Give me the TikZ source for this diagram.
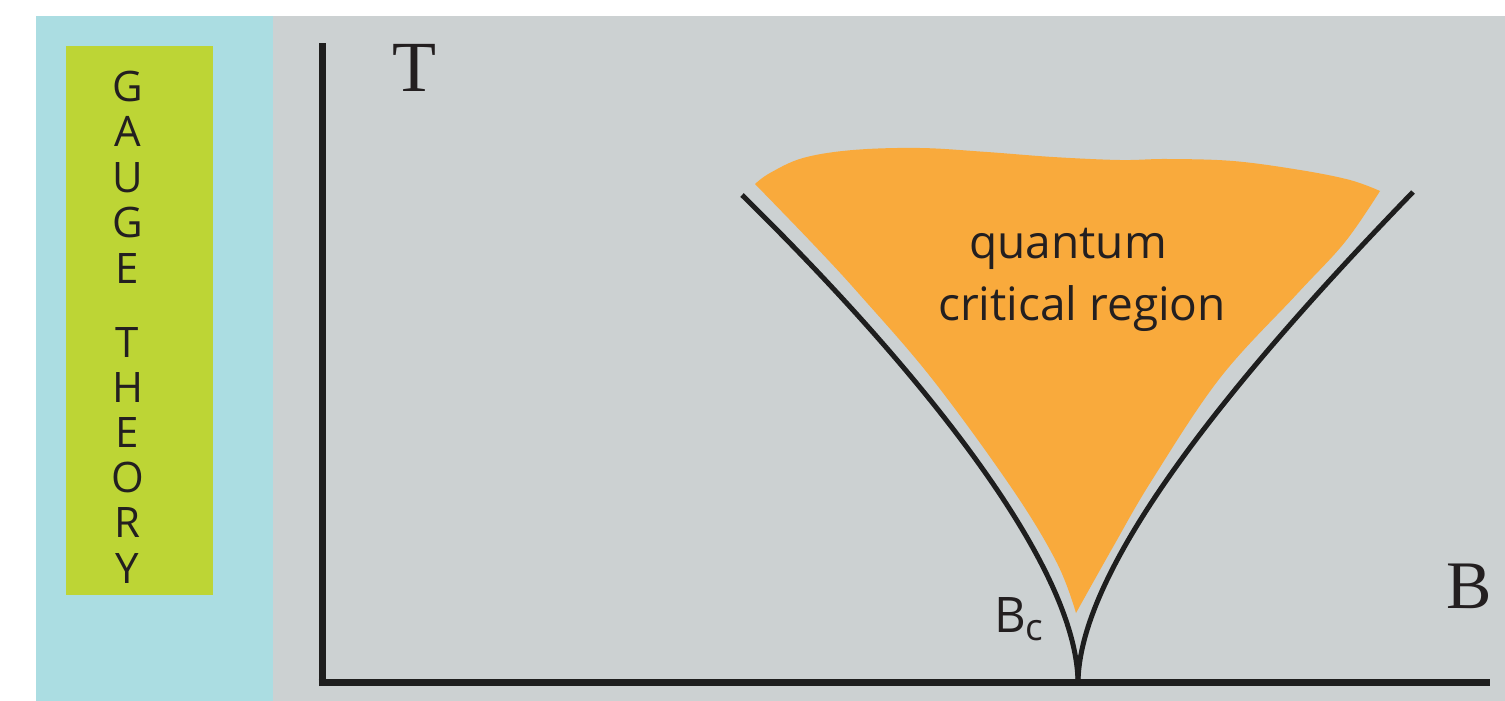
\documentclass[tikz,border=0pt]{standalone}
\usepackage{fontspec}
\setmainfont{Liberation Serif}
\newfontfamily\osans{Open Sans}
\definecolor{cyanbg}{RGB}{171,221,226}
\definecolor{graybg}{RGB}{204,209,210}
\definecolor{greenbox}{RGB}{189,213,53}
\definecolor{qcorange}{RGB}{249,170,60}
\definecolor{inkblack}{RGB}{30,30,30}
\definecolor{textdark}{RGB}{35,31,32}
\tikzset{
  axisline/.style={draw=inkblack, line width=7pt},
  phaseline/.style={draw=inkblack, line width=5pt},
  gaugeletter/.style={font=\osans\fontsize{42}{48}\selectfont, text=textdark, inner sep=0pt, anchor=base},
  qclabel/.style={font=\osans\fontsize{46}{56}\selectfont, text=textdark, inner sep=0pt, anchor=base},
  seriflabel/.style={text=textdark, inner sep=0pt, anchor=base},
}
\begin{document}
\begin{tikzpicture}[x=1pt,y=-1pt]
\useasboundingbox (0,0) rectangle (1505,701);
\fill[white] (0,0) rectangle (1505,701);
\fill[cyanbg] (36,16) rectangle (273,701);
\fill[graybg] (273,16) rectangle (1505,701);
\fill[greenbox] (66,46) rectangle (213,595);
% gauge theory letters
\foreach \l/\y [count=\i] in {G/101.5, A/146.9, U/192.3, G/237.7, E/283.1, T/357, H/402.2, E/447.4, O/492.6, R/537.8, Y/583}
  \node[gaugeletter] (g\i) at (127.5,\y) {\l};
% quantum critical region
\fill[qcorange]
  plot[smooth, tension=0.6] coordinates {(1076,613) (1057,563) (1013,490) (933,380) (860,295) (813,244) (755,184)}
  -- plot[smooth, tension=0.6] coordinates {(755,184) (770,173) (803,158) (853,150) (920,148) (987,152) (1053,157) (1120,160) (1167,159) (1233,161) (1300,170) (1350,180) (1380,191)}
  -- plot[smooth, tension=0.6] coordinates {(1380,191) (1345,242) (1297,294) (1220,378) (1152,480) (1113,547) (1076,613)}
  -- cycle;
% axes
\coordinate (ytop) at (322,43);
\coordinate (xend) at (1490,682.5);
\coordinate (xstart) at (318.5,682.5);
\coordinate (ybot) at (322,686);
\draw[axisline] (ybot) -- (ytop);
\draw[axisline] (xstart) -- (xend);
% phase boundaries
\coordinate (cusp) at (1078,684);
\coordinate (lefttop) at (742,195);
\coordinate (righttop) at (1413,192);
\draw[phaseline] (cusp) .. controls (1078,560) and (905,355) .. (lefttop);
\draw[phaseline] (cusp) .. controls (1078,560) and (1255,355) .. (righttop);
% labels
\node[seriflabel, font=\fontsize{72}{80}\selectfont] (T) at (414,92) {T};
\node[seriflabel, font=\fontsize{68}{76}\selectfont] (B) at (1469.5,608) {B};
\node[qclabel] (q1) at (1068,258) {quantum};
\node[qclabel] (q2) at (1082,320) {critical region};
\node[text=textdark, inner sep=0pt, anchor=base west, font=\osans\fontsize{49}{56}\selectfont] (Bc) at (994,632) {B\raisebox{-8pt}{\fontsize{37}{40}\selectfont c}};
\end{tikzpicture}
\end{document}
